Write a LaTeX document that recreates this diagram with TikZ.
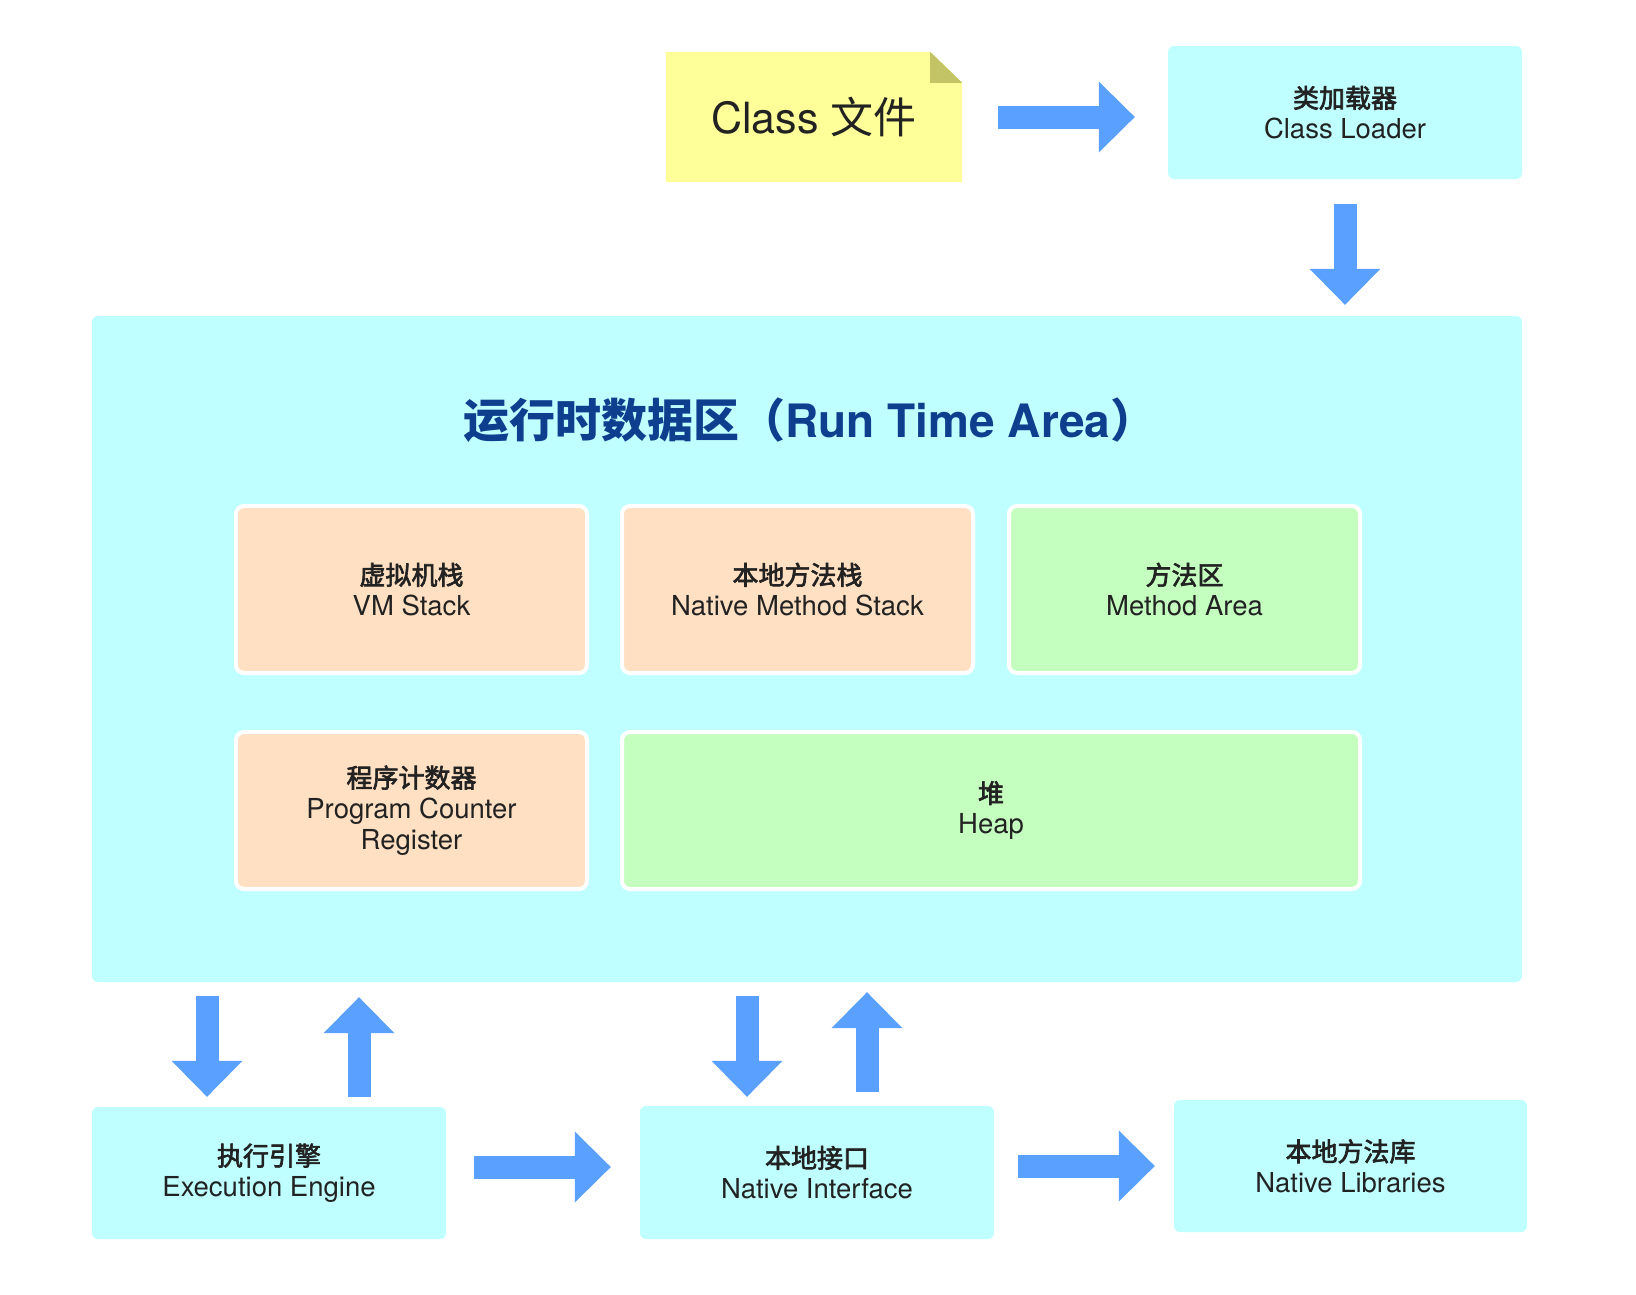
\documentclass[tikz,border=0pt]{standalone}
\usepackage{fontspec}
\setmainfont{TeX Gyre Heros}
\newfontfamily\cjk{Noto Sans CJK SC}
\newfontfamily\cjkmid{Noto Sans CJK SC}[FakeBold=2.5]
\usetikzlibrary{arrows.meta,backgrounds}
\definecolor{boxcyan}{HTML}{C0FFFF}
\definecolor{stackpeach}{HTML}{FFE0C2}
\definecolor{areagreen}{HTML}{C4FFC0}
\definecolor{noteyellow}{HTML}{FFFF99}
\definecolor{notefold}{HTML}{C2C466}
\definecolor{arrowblue}{HTML}{5AA1FF}
\definecolor{titleblue}{HTML}{0E3E8E}
\definecolor{txt}{HTML}{222222}
\newcommand{\zhtext}[1]{{\cjkmid\fontsize{26}{31}\selectfont #1}}

\begin{document}
\begin{tikzpicture}[x=1pt, y=-1pt,
    outer/.style={fill=boxcyan, rounded corners=6pt, align=center, text=txt,
      font=\fontsize{27.5}{31}\selectfont, inner sep=0pt, minimum width=354pt, minimum height=132pt},
    inbox/.style={draw=white, line width=4pt, rounded corners=8pt, align=center, text=txt,
      font=\fontsize{27.5}{31}\selectfont, inner sep=0pt, minimum width=351pt},
    bigarrow/.style={draw=arrowblue, line width=23pt,
      -{Triangle[width=71pt, length=36pt, line width=0pt]}}]
    \useasboundingbox (0,0) rectangle (1636,1294);

    % top row
    \node[inner sep=0pt, minimum width=296pt, minimum height=130pt, text=txt,
      font=\fontsize{43}{48}\selectfont] (note) at (814,117) {Class {\cjk 文件}};
    \begin{scope}[on background layer]
      \fill[noteyellow] (note.south west) -- (note.north west) -- ([xshift=-32pt]note.north east)
        -- ([yshift=-31pt]note.north east) -- (note.south east) -- cycle;
      \fill[notefold] ([xshift=-32pt]note.north east) -- ([xshift=-32pt,yshift=-31pt]note.north east)
        -- ([yshift=-31pt]note.north east) -- cycle;
    \end{scope}
    \node[outer, minimum height=133pt] (loader) at (1345,112.5) {\zhtext{类加载器}\\Class Loader};

    % run time area
    \node[outer, minimum width=1430pt, minimum height=666pt] (rt) at (807,649) {};
    \node[text=titleblue, font=\fontsize{46}{50}\selectfont\bfseries] (title) at (810,420)
      {{\cjk\bfseries 运行时数据区（}Run Time Area{\cjk\bfseries ）}};
    \node[inbox, fill=stackpeach, minimum height=167pt] (vm) at (411.5,589.5) {\zhtext{虚拟机栈}\\VM Stack};
    \node[inbox, fill=stackpeach, minimum height=167pt] (nms) at (797.5,589.5) {\zhtext{本地方法栈}\\Native Method Stack};
    \node[inbox, fill=areagreen, minimum height=167pt] (ma) at (1184.5,589.5) {\zhtext{方法区}\\Method Area};
    \node[inbox, fill=stackpeach, minimum height=157pt] (pc) at (411.5,810.5) {\zhtext{程序计数器}\\Program Counter\\Register};
    \node[inbox, fill=areagreen, minimum height=157pt, minimum width=738pt] (heap) at (991,810.5) {\zhtext{堆}\\Heap};

    % bottom row
    \node[outer] (exec) at (269,1173) {\zhtext{执行引擎}\\Execution Engine};
    \node[outer, minimum height=133pt] (ni) at (817,1172.5) {\zhtext{本地接口}\\Native Interface};
    \node[outer, minimum width=353pt] (lib) at (1350.5,1166) {\zhtext{本地方法库}\\Native Libraries};

    % arrows
    \draw[bigarrow, shorten <=36pt, shorten >=33pt] (note.east) -- (note.east -| loader.west);
    \draw[bigarrow, shorten <=25pt, shorten >=11pt] (loader.south) -- (loader.south |- rt.north);
    \draw[bigarrow, shorten <=14pt, shorten >=10pt] ([xshift=-62pt]exec.north |- rt.south) -- ([xshift=-62pt]exec.north);
    \draw[bigarrow, shorten <=10pt, shorten >=15pt] ([xshift=90pt]exec.north) -- ([xshift=90pt]exec.north |- rt.south);
    \draw[bigarrow, shorten <=14pt, shorten >=9pt] ([xshift=-70pt]ni.north |- rt.south) -- ([xshift=-70pt]ni.north);
    \draw[bigarrow, shorten <=14pt, shorten >=10pt] ([xshift=50pt]ni.north) -- ([xshift=50pt]ni.north |- rt.south);
    \draw[bigarrow, shorten <=28pt, shorten >=29pt] ([yshift=6pt]exec.east) -- ([yshift=6pt]exec.east -| ni.west);
    \draw[bigarrow, shorten <=24pt, shorten >=19pt] (ni.east |- lib.west) -- (lib.west);
\end{tikzpicture}
\end{document}
